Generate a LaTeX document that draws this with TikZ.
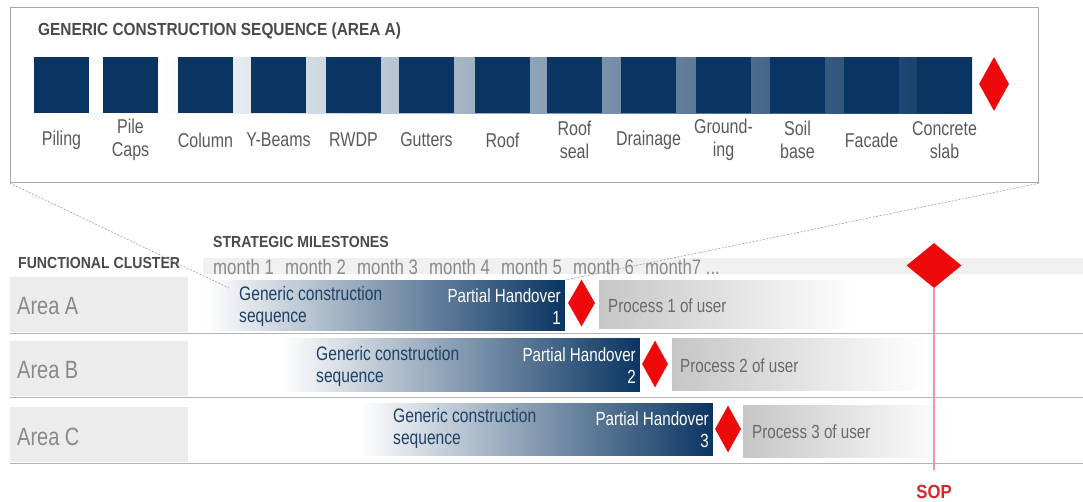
\documentclass[tikz,border=0pt]{standalone}
\usepackage{fontspec}
\setmainfont{Liberation Sans}[FakeStretch=0.8]
\newfontfamily\headfont{Liberation Sans}[FakeStretch=0.88]
\usetikzlibrary{shapes.geometric}
\definecolor{navy}{HTML}{0A3562}
\definecolor{seqtext}{HTML}{1E4166}
\definecolor{labelgray}{HTML}{5A5A5A}
\definecolor{headgray}{HTML}{4A4A4A}
\definecolor{lightgray}{HTML}{8A8A8A}
\definecolor{areafill}{HTML}{ECECEC}
\definecolor{bandfill}{HTML}{F0F0F0}
\definecolor{procgray}{HTML}{C6C6C6}
\definecolor{proccolor}{HTML}{6A6A6A}
\definecolor{boxgray}{HTML}{A8A8A8}
\definecolor{rulegray}{HTML}{B4B4B4}
\definecolor{msred}{HTML}{EE0A0A}
\definecolor{sopred}{HTML}{D8252A}
\definecolor{soppink}{HTML}{EC9A9A}
\begin{document}
\begin{tikzpicture}[x=1pt,y=-1pt,
    block/.style={fill=navy, inner sep=0pt, minimum width=55pt, minimum height=56pt, anchor=north west},
    seqlabel/.style={text=labelgray, font=\fontsize{20}{22.5}\selectfont, align=center, inner sep=0pt},
    milestone/.style={diamond, fill=msred, inner sep=0pt},
    header/.style={text=headgray, font=\headfont\bfseries\fontsize{16}{16}\selectfont, anchor=west, inner sep=0pt},
    month/.style={text=lightgray, font=\fontsize{21}{21}\selectfont, anchor=west, inner sep=0pt},
    areabox/.style={fill=areafill, inner sep=0pt, minimum width=178pt, minimum height=55pt, anchor=north west},
    arealabel/.style={text=lightgray, font=\fontsize{25}{25}\selectfont, anchor=west, inner sep=0pt},
    hobar/.style={left color=white, right color=navy, inner sep=0pt, anchor=north east},
    bartext/.style={text=seqtext, font=\fontsize{19.5}{22}\selectfont, align=left, anchor=north west, inner sep=0pt},
    hotext/.style={text=white, font=\fontsize{19}{22}\selectfont, align=right, anchor=north east, inner sep=0pt},
    process/.style={left color=procgray, right color=white, inner sep=0pt, anchor=north west},
    proctext/.style={text=proccolor, font=\fontsize{19}{19}\selectfont, anchor=west, inner sep=0pt},
    zoomline/.style={boxgray, line width=0.7pt, dash pattern=on 2pt off 1.5pt},
    rowline/.style={rulegray, line width=1pt}
]
\useasboundingbox (0,0) rectangle (1083,501);

\node[draw=boxgray, line width=1.2pt, inner sep=0pt, minimum width=1028pt, minimum height=175pt, anchor=north west] (seqbox) at (10,7) {};
\node[header, font=\headfont\bfseries\fontsize{17.5}{17.5}\selectfont] (seqtitle) at (38,31) {GENERIC CONSTRUCTION SEQUENCE (AREA A)};
\shade[left color=white, right color=navy] (160,57) rectangle (972,113);
\foreach \x/\lab [count=\n] in {34/Piling, 103/{Pile\\Caps}, 178/Column, 251/Y-Beams, 326/RWDP, 399/Gutters, 475/Roof, 547/{Roof\\seal}, 621/Drainage, 696/{Ground-\\ing}, 770/{Soil\\base}, 844/Facade, 917/{Concrete\\slab}}
{
    \node[block] (b\n) at (\x,57) {};
    \node[seqlabel] (l\n) at (\x+27.5,140) {\lab};
}
\node[milestone, minimum width=30pt, minimum height=54pt] (seqend) at (994,84) {};

\node[header] (milestones) at (213,242) {STRATEGIC MILESTONES};
\node[header] (cluster) at (18,263) {FUNCTIONAL CLUSTER};
\fill[bandfill] (203,258) rectangle (1083,274);
\foreach \n in {1,...,6}
    \node[month] (m\n) at (141+72*\n,267) {month \n};
\node[month] (m7) at (645,267) {month7 ...};

\draw[rowline] (10,333) -- (1083,333);
\draw[rowline] (10,397) -- (1083,397);
\draw[rowline] (10,463) -- (1083,463);
\foreach \a/\ytop/\ly in {A/277/306, B/341/370, C/407/437}
{
    \node[areabox] (area\a) at (10,\ytop) {};
    \node[arealabel] (alabel\a) at (17,\ly) {Area \a};
}

\node[hobar, minimum width=360pt, minimum height=50pt] (barA) at (565,280) {};
\node[hobar, minimum width=358pt, minimum height=53pt] (barB) at (640,338) {};
\node[hobar, minimum width=354pt, minimum height=52pt] (barC) at (713,403) {};
\node[bartext] (genA) at (239,286) {Generic construction\\sequence};
\node[bartext] (genB) at (316,346) {Generic construction\\sequence};
\node[bartext] (genC) at (393,408) {Generic construction\\sequence};
\node[hotext] (hoA) at (561,289) {Partial Handover\\1};
\node[hotext] (hoB) at (636,348) {Partial Handover\\2};
\node[hotext] (hoC) at (709,412) {Partial Handover\\3};
\node[milestone, minimum width=27pt, minimum height=47pt] (msA) at (581.5,303) {};
\node[milestone, minimum width=26pt, minimum height=47pt] (msB) at (655,364) {};
\node[milestone, minimum width=26pt, minimum height=47pt] (msC) at (728,429) {};
\node[process, minimum width=260pt, minimum height=48pt] (procA) at (599,280) {};
\node[process, minimum width=256pt, minimum height=52pt] (procB) at (672,338) {};
\node[process, minimum width=204pt, minimum height=52pt] (procC) at (743,405) {};
\node[proctext] (ptA) at (608,306) {Process 1 of user};
\node[proctext] (ptB) at (680,366) {Process 2 of user};
\node[proctext] (ptC) at (752,432) {Process 3 of user};

\coordinate (zoomA) at (229,288);
\draw[zoomline] (seqbox.south west) -- (zoomA);
\draw[zoomline] (seqbox.south east) -- (barA.north east);

\node[milestone, minimum width=55pt, minimum height=45pt] (sop) at (934,265.5) {};
\coordinate (sopend) at (934,470);
\draw[soppink, line width=1.3pt] (sop.south) -- (sopend);
\node[text=sopred, font=\headfont\bfseries\fontsize{19}{19}\selectfont, inner sep=0pt] (soplabel) at (934,492) {SOP};
\end{tikzpicture}
\end{document}
